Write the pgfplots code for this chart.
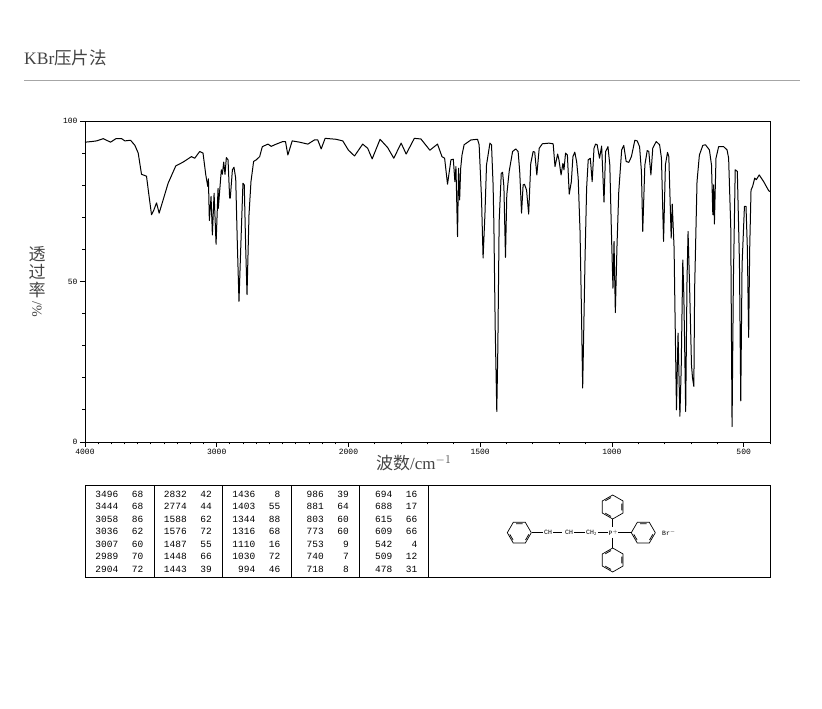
\documentclass[border=0pt]{standalone}
\usepackage{fontspec}
\setmainfont{Liberation Serif}
\newfontfamily\cjk{Noto Sans CJK SC}
\newfontfamily\pix{Liberation Mono}
\usepackage{pgfplots}
\usepackage{pgfplotstable}
\pgfplotsset{compat=1.18}
\definecolor{labelgrey}{HTML}{444444}

% spectrum in wavenumber / transmittance; scale above 2000 is compressed by 2
\pgfplotstableread{
wn T
4000 93.4
3950 93.6
3912 93.8
3861 94.5
3806 93.4
3765 94.5
3722 94.5
3697 93.8
3654 94.0
3621 92.4
3596 90.0
3571 83.4
3533 82.8
3515 77.0
3495 70.8
3477 72.3
3457 74.5
3437 71.3
3407 75.4
3369 80.6
3311 86.0
3255 87.2
3192 88.9
3167 88.4
3129 90.5
3104 90.0
3083 83.2
3068 79.6
3063 82.0
3056 69.0
3043 76.5
3033 64.5
3020 77.5
3005 61.6
2990 79.0
2988 72.8
2965 84.8
2957 83.4
2947 87.2
2937 83.4
2927 88.6
2914 87.9
2902 76.0
2897 76.0
2881 84.8
2869 85.6
2856 82.2
2844 62.5
2831 43.8
2816 62.5
2801 80.6
2791 80.1
2780 60.4
2770 45.9
2755 70.8
2740 81.1
2720 87.4
2700 87.9
2674 88.9
2654 92.0
2611 92.8
2586 92.1
2548 92.8
2498 93.6
2478 93.6
2460 89.4
2427 93.8
2371 93.4
2308 92.8
2258 94.1
2233 94.1
2207 91.3
2177 94.6
2094 94.3
2043 93.8
2000 90.9
1977 89.1
1946 92.8
1927 91.5
1910 88.2
1880 94.3
1851 91.7
1828 88.4
1800 93.1
1781 89.7
1750 94.6
1725 94.4
1691 90.9
1662 92.8
1645 88.9
1635 88.4
1624 80.3
1611 87.9
1602 88.1
1596 81.1
1592 85.8
1586 64.0
1582 85.3
1578 75.4
1574 85.3
1569 89.4
1561 92.6
1535 94.1
1510 94.3
1504 92.6
1495 76.0
1489 57.3
1482 70.8
1476 86.3
1463 93.1
1457 92.6
1451 80.1
1448 67.6
1443 35.5
1437 9.5
1433 29.2
1428 68.7
1420 83.7
1415 84.0
1410 79.6
1404 57.5
1399 77.0
1390 84.3
1377 90.5
1365 91.3
1356 90.5
1350 84.3
1343 71.3
1337 80.1
1332 80.3
1324 78.5
1316 71.0
1308 86.8
1299 90.5
1293 90.3
1285 83.2
1276 91.5
1264 92.9
1239 93.1
1223 92.9
1216 85.8
1206 89.7
1201 87.9
1193 83.2
1186 86.8
1182 84.8
1176 90.0
1169 89.4
1162 77.2
1154 81.1
1148 88.9
1141 90.3
1134 87.4
1128 82.2
1121 65.6
1116 42.7
1111 16.8
1107 34.4
1102 57.3
1096 79.1
1090 87.9
1082 88.4
1075 81.1
1068 91.5
1062 92.8
1056 92.6
1047 88.4
1039 92.2
1030 74.7
1024 90.5
1015 92.0
1008 86.3
1001 62.5
996 47.9
992 62.5
987 40.3
981 60.4
974 78.0
963 91.0
955 92.4
946 87.4
936 87.1
926 88.9
913 94.0
904 93.8
895 92.0
888 84.3
883 65.6
875 86.3
866 90.8
860 90.5
852 83.2
845 91.5
832 93.6
819 92.6
812 88.4
804 62.5
797 86.3
789 90.2
784 88.9
775 63.5
771 74.1
764 60.4
761 42.7
755 10.0
749 33.9
742 8.0
737 23.0
731 56.7
727 45.8
720 9.5
715 50.0
711 65.6
705 47.9
698 24.0
694 19.9
689 17.3
686 47.9
677 81.1
668 89.4
655 92.4
645 92.6
630 91.0
622 86.3
617 70.8
614 80.1
611 67.9
605 88.4
595 92.0
576 92.0
563 91.0
557 88.4
549 67.1
544 4.8
539 50.0
532 84.8
524 84.3
516 56.2
511 12.8
506 55.2
497 73.4
491 73.4
486 60.4
481 32.6
477 60.4
472 78.5
466 79.6
458 82.2
452 81.7
441 83.2
424 81.1
405 78.3
400 78.0
}\spectrum

% hexagon at pixel position, #1 = start angle
\newcommand\hexa[3]{%
  \draw[line width=0.7pt,shift={(#2,#3)},rotate=#1]
    (0:12) -- (60:12) -- (120:12) -- (180:12) -- (240:12) -- (300:12) -- cycle
    (10:9.6) -- (50:9.6) (130:9.6) -- (170:9.6) (250:9.6) -- (290:9.6);}

\begin{document}
\begin{tikzpicture}
\useasboundingbox (0,0) rectangle (822pt,709pt);
\begin{axis}[
  at={(85pt,267pt)}, anchor=south west,
  scale only axis, width=685pt, height=321pt,
  x dir=reverse,
  % axis units: wavenumber below 2000, (wn+2000)/2 above it
  xmin=400, xmax=3000, ymin=0, ymax=100,
  axis line style={line width=0.9pt},
  tick style={black, line width=0.8pt},
  tick align=outside, xtick pos=bottom, ytick pos=left,
  major tick length=5pt, minor tick length=2.5pt,
  xtick={3000,2500,2000,1500,1000,500},
  xticklabels={4000,3000,2000,1500,1000,500},
  minor xtick={400,500,...,2000,2050,2100,...,3000},
  ytick={0,50,100},
  yticklabels={0,50,100},
  minor ytick={10,20,30,40,60,70,80,90},
  tick label style={font=\pix\fontsize{8}{9}\selectfont},
  xticklabel style={yshift=1.5pt},
  yticklabel style={xshift=1pt},
]
\addplot[black, line width=1pt, line join=round, no marks]
  table[x expr={\thisrow{wn}>=2000?(\thisrow{wn}+2000)/2:\thisrow{wn}}, y=T] {\spectrum};
\end{axis}

\begin{scope}[x=1pt, y=-1pt, yshift=709pt]
  % heading
  \node[anchor=base west, inner sep=0pt, text=labelgrey, font=\fontsize{17.5}{20}\selectfont] at (24,65) {KBr{\cjk 压片法}};
  \draw[line width=1pt, black!35] (24,80.5) -- (800,80.5);

  % axis captions
  \node[text=labelgrey, inner sep=0pt, font=\cjk\fontsize{17}{18}\selectfont] at (37,254) {透};
  \node[text=labelgrey, inner sep=0pt, font=\cjk\fontsize{17}{18}\selectfont] at (37,272) {过};
  \node[text=labelgrey, inner sep=0pt, font=\cjk\fontsize{17}{18}\selectfont] at (37,290) {率};
  \node[text=labelgrey, inner sep=0pt, rotate=-90, font=\fontsize{14}{15}\selectfont] at (37,309) {/\%};
  \node[anchor=west, text=labelgrey, inner sep=0pt, font=\fontsize{17}{18}\selectfont] at (376,463) {{\cjk 波数}/cm$^{-1}$};

  % peak table
  \draw[line width=0.9pt] (85,485.5) rectangle (770.5,577);
  \foreach \x in {154,222,291,359,428} \draw[line width=0.9pt] (\x,485.5) -- (\x,577);
  \foreach \w/\t [count=\i from 0] in {
    3496/68,3444/68,3058/86,3036/62,3007/60,2989/70,2904/72,
    2832/42,2774/44,1588/62,1576/72,1487/55,1448/66,1443/39,
    1436/8,1403/55,1344/88,1316/68,1110/16,1030/72,994/46,
    986/39,881/64,803/60,773/60,753/9,740/7,718/8,
    694/16,688/17,615/66,609/66,542/4,509/12,478/31} {
    \pgfmathtruncatemacro\c{int(\i/7)}
    \pgfmathtruncatemacro\r{\i-7*\c}
    \node[anchor=east, inner sep=0pt, font=\pix\fontsize{9.5}{10}\selectfont] at ({118.5+68.5*\c},{494+12.5*\r}) {\w};
    \node[anchor=east, inner sep=0pt, font=\pix\fontsize{9.5}{10}\selectfont] at ({143.5+68.5*\c},{494+12.5*\r}) {\t};
  }

  % structure
  \hexa{0}{519.3}{532.7}
  \hexa{0}{643.3}{532.7}
  \hexa{30}{612.7}{507}
  \hexa{30}{612.7}{560}
  \draw[line width=0.7pt] (531.5,532.7) -- (543,532.7) (574,532.7) -- (585,532.7) (598,532.7) -- (608,532.7) (618,532.7) -- (631.3,532.7) (612.7,519) -- (612.7,527) (612.7,538) -- (612.7,548);
  \draw[line width=1.5pt] (553,532.7) -- (562,532.7);
  \tikzset{chem/.style={inner sep=0pt, font=\pix\fontsize{6.5}{7}\selectfont}}
  \node[chem] at (548,532.7) {CH};
  \node[chem] at (569,532.7) {CH};
  \node[chem] at (591.5,533) {CH$_{\mathrm{2}}$};
  \node[chem] at (613.5,532.7) {P$^{+}$};
  \node[chem] at (669,532.7) {Br$^{-}$};
\end{scope}
\end{tikzpicture}
\end{document}
